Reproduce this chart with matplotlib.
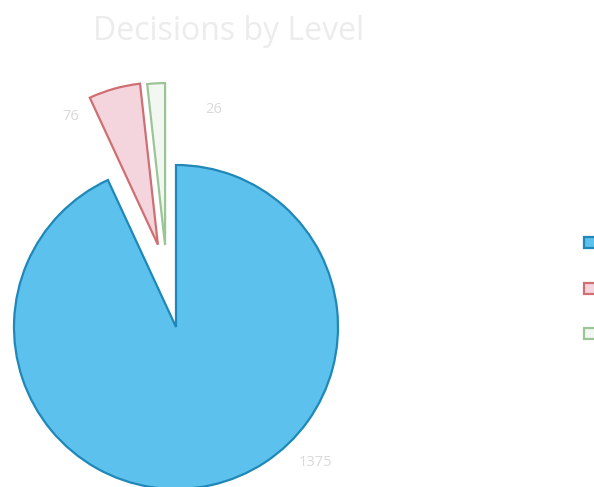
import matplotlib
matplotlib.use("Agg")
import matplotlib.pyplot as plt
import matplotlib.patches as mpatches
import numpy as np

# Decision counts per level
levels = ["Level 1", "Level 2", "Level 3"]
counts = [1375, 76, 26]
value_labels = ["1375", "76", "26"]

# Pull-out distance (in radii) and direction (degrees left of 12 o'clock)
pull_dist = [0.0, 0.52, 0.51]
pull_dir = [0.0, 12.4, 7.6]

face_colors = ["#5cc1ec", "#f4d5de", "#f3f7f1"]
edge_colors = ["#1f88b8", "#cf6f72", "#9cc597"]

W, H, DPI = 594, 487, 100
fig = plt.figure(figsize=(W / DPI, H / DPI), dpi=DPI)
fig.patch.set_facecolor("white")

# Axes spanning the whole figure; one data unit equals the pie radius
cx, cy, r = 176.0, 327.0, 162.0
ax = fig.add_axes([0, 0, 1, 1])

wedges, _ = ax.pie(
    counts,
    startangle=90,
    counterclock=False,
    colors=face_colors,
    radius=1.0,
    frame=False,
    wedgeprops=dict(linewidth=1.6),
)
for w, ec, d, a in zip(wedges, edge_colors, pull_dist, pull_dir):
    w.set_edgecolor(ec)
    t = np.deg2rad(a)
    w.set_center((-d * np.sin(t), d * np.cos(t)))

ax.set_xlim(-cx / r, (W - cx) / r)
ax.set_ylim(-(H - cy) / r, cy / r)
ax.set_aspect("auto")
ax.axis("off")

# Value labels placed around the wedges
label_pos = [(0.86, -0.835), (-0.65, 1.30), (0.23, 1.34)]
for (x, y), txt in zip(label_pos, value_labels):
    ax.text(x, y, txt, ha="center", va="center", fontsize=10.5,
            color="#d9d9d9", family="Open Sans")

fig.text(229 / W, 1 - 31 / H, "Decisions by Level", ha="center", va="center",
         fontsize=23, color="#ececec", family="Open Sans")

# Legend markers sit at the right edge of the figure
handles = [mpatches.Patch(facecolor=fc, edgecolor=ec, linewidth=1.6)
           for fc, ec in zip(face_colors, edge_colors)]
fig.legend(handles, ["", "", ""], loc="upper left",
           bbox_to_anchor=(584 / W, 1 - 237 / H),
           frameon=False, fontsize=9, handlelength=1.0, handleheight=1.0,
           labelspacing=2.6, borderpad=0, borderaxespad=0,
           handletextpad=0.8)

fig.savefig("out.png", dpi=DPI, facecolor="white")
